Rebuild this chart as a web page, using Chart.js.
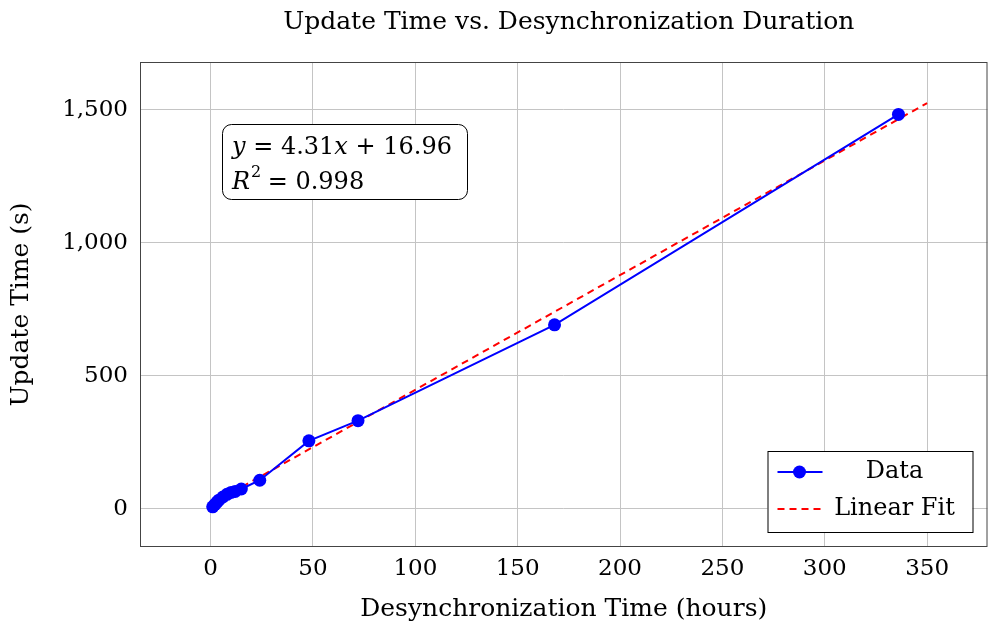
<!DOCTYPE html>
<html lang="en">
<head>
  <meta charset="UTF-8" />
  <title>Update Time vs. Desynchronization Duration</title>
  <script src="https://cdn.jsdelivr.net/npm/chart.js"></script>
  <style>
    html, body { margin: 0; padding: 0; background: #fff; }
    .wrap { width: 994px; height: 628px; position: relative; }
  </style>
</head>
<body>
  <div class="wrap"><canvas id="graf"></canvas></div>

  <script>
    // data
    const hours = [1, 2, 3, 4, 6, 8, 10, 12, 15, 24, 48, 72, 168, 336];
    const updateSecs = [8, 16, 25, 33, 45, 55, 62, 66, 75, 108, 256, 332, 692, 1483];
    const fitX = [0, 350];
    const fitY = [16.96, 1525.46];
    const xTicks = [0, 50, 100, 150, 200, 250, 300, 350];
    const yTicks = [0, 500, 1000, 1500];

    const SERIF = "'DejaVu Serif', 'Liberation Serif', serif";

    const frame = {
      id: 'frame',
      afterDraw(chart) {
        const { ctx, chartArea: a } = chart;
        ctx.save();
        // axis box
        ctx.strokeStyle = '#444';
        ctx.lineWidth = 1;
        ctx.strokeRect(a.left + 0.5, a.top + 0.5, a.right - a.left - 1, a.bottom - a.top - 1);

        // title
        ctx.fillStyle = '#000';
        ctx.font = '25px ' + SERIF;
        ctx.textAlign = 'center';
        ctx.textBaseline = 'alphabetic';
        ctx.fillText('Update Time vs. Desynchronization Duration', (a.left + a.right) / 2 + 5, 29);

        // equation box
        const bx = a.left + 82, by = a.top + 62, bw = 245, bh = 75;
        ctx.beginPath();
        ctx.roundRect(bx + 0.5, by + 0.5, bw, bh, 9);
        ctx.fillStyle = '#fff';
        ctx.fill();
        ctx.strokeStyle = '#000';
        ctx.stroke();

        drawParts(ctx, [['y', true], [' = 4.31', false], ['x', true], [' + 16.96', false]], bx + 10, by + 30);
        let px = drawParts(ctx, [['R', true]], bx + 10, by + 65);
        ctx.font = '16px ' + SERIF;
        ctx.textAlign = 'left';
        ctx.fillText('2', px + 1, by + 53);
        drawParts(ctx, [[' = 0.998', false]], px + 10, by + 65);

        // legend
        const lw = 205, lh = 81;
        const lx = a.right - 15 - lw, ly = a.bottom - 15 - lh;
        ctx.fillStyle = '#fff';
        ctx.fillRect(lx, ly, lw, lh);
        ctx.strokeStyle = '#000';
        ctx.strokeRect(lx + 0.5, ly + 0.5, lw, lh);

        const r1 = ly + 21, r2 = ly + 58;
        ctx.strokeStyle = '#0000ff';
        ctx.lineWidth = 2;
        ctx.beginPath();
        ctx.moveTo(lx + 10, r1);
        ctx.lineTo(lx + 55, r1);
        ctx.stroke();
        ctx.fillStyle = '#0000ff';
        ctx.beginPath();
        ctx.arc(lx + 32, r1, 6.5, 0, Math.PI * 2);
        ctx.fill();

        ctx.strokeStyle = '#ff0000';
        ctx.setLineDash([7, 5]);
        ctx.beginPath();
        ctx.moveTo(lx + 10, r2);
        ctx.lineTo(lx + 55, r2);
        ctx.stroke();
        ctx.setLineDash([]);

        ctx.fillStyle = '#000';
        ctx.font = '24px ' + SERIF;
        ctx.textAlign = 'center';
        ctx.textBaseline = 'middle';
        ctx.fillText('Data', lx + 127, r1);
        ctx.fillText('Linear Fit', lx + 127, r2);
        ctx.restore();
      }
    };

    function drawParts(ctx, parts, x, y) {
      ctx.textAlign = 'left';
      ctx.textBaseline = 'alphabetic';
      ctx.fillStyle = '#000';
      for (const [txt, ital] of parts) {
        ctx.font = (ital ? 'italic ' : '') + '24px ' + SERIF;
        ctx.fillText(txt, x, y);
        x += ctx.measureText(txt).width;
      }
      return x;
    }

    const tickFont = { family: SERIF, size: 23 };
    const titleFont = { family: SERIF, size: 25 };
    const grid = { color: '#c4c4c4', lineWidth: 1, drawTicks: false };

    new Chart(document.getElementById('graf'), {
      type: 'line',
      data: {
        datasets: [
          {
            label: 'Linear Fit',
            data: fitX.map((x, i) => ({ x: x, y: fitY[i] })),
            borderColor: '#ff0000',
            borderWidth: 2,
            borderDash: [7, 5],
            pointRadius: 0,
            fill: false,
            order: 2
          },
          {
            label: 'Data',
            data: hours.map((h, i) => ({ x: h, y: updateSecs[i] })),
            borderColor: '#0000ff',
            backgroundColor: '#0000ff',
            borderWidth: 2,
            pointRadius: 6.5,
            pointBorderWidth: 0,
            fill: false,
            order: 1
          }
        ]
      },
      options: {
        responsive: true,
        maintainAspectRatio: false,
        animation: false,
        layout: { padding: { top: 62, right: 1, left: 0, bottom: 0 } },
        plugins: {
          legend: { display: false },
          tooltip: { enabled: false }
        },
        scales: {
          x: {
            type: 'linear',
            min: -34.5,
            max: 379.5,
            grid: grid,
            border: { display: false },
            afterBuildTicks: s => { s.ticks = xTicks.map(v => ({ value: v })); },
            afterFit: s => { s.height = 81; },
            ticks: {
              font: tickFont,
              color: '#000',
              padding: 8,
              maxRotation: 0,
              callback: v => v.toLocaleString('en-US')
            },
            title: {
              display: true,
              text: 'Desynchronization Time (hours)',
              font: titleFont,
              color: '#000',
              padding: { top: 0, bottom: 4 }
            }
          },
          y: {
            type: 'linear',
            min: -143,
            max: 1680,
            grid: grid,
            border: { display: false },
            afterBuildTicks: s => { s.ticks = yTicks.map(v => ({ value: v })); },
            afterFit: s => { s.width = 140; },
            ticks: {
              font: tickFont,
              color: '#000',
              padding: 12,
              callback: v => v.toLocaleString('en-US')
            },
            title: {
              display: true,
              text: 'Update Time (s)',
              font: titleFont,
              color: '#000',
              padding: { top: 6, bottom: 0 }
            }
          }
        }
      },
      plugins: [frame]
    });
  </script>
</body>
</html>
